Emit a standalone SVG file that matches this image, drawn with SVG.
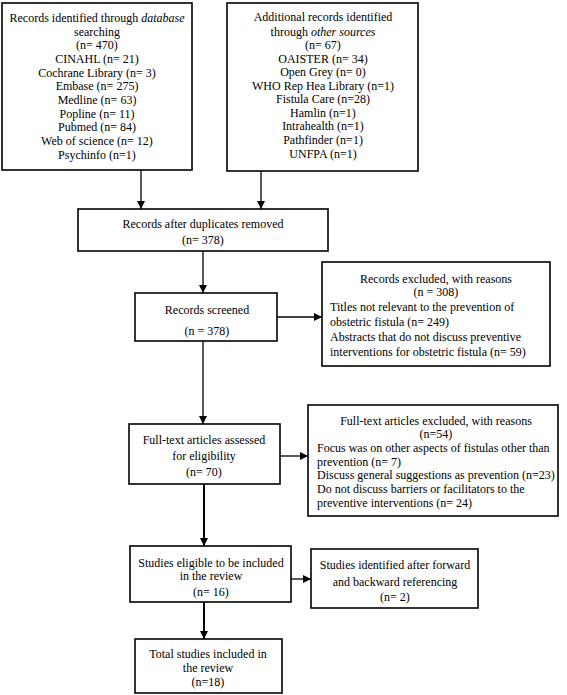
<svg xmlns="http://www.w3.org/2000/svg" width="567" height="695" viewBox="0 0 567 695">
<style>
rect{fill:#fff;stroke:#000;stroke-width:1.6}
text{font-family:"Liberation Serif","Times New Roman",serif;font-size:12px;fill:#000}
.c{text-anchor:middle}
.l{stroke:#000;stroke-width:1.3;fill:none}
.t{stroke-width:2}
</style>
<defs>
<marker id="ah" markerUnits="userSpaceOnUse" markerWidth="8" markerHeight="8" refX="8" refY="4" orient="auto">
<path d="M0,0 L8,4 L0,8 z" fill="#000"/>
</marker>
</defs>
<rect width="567" height="695" style="stroke:none"/>
<g id="connectors">
<path class="l" d="M141,170 V209" marker-end="url(#ah)"/>
<path class="l" d="M261,171 V209" marker-end="url(#ah)"/>
<path class="l" d="M203,251 V293" marker-end="url(#ah)"/>
<path class="l" d="M277,317 H322" marker-end="url(#ah)"/>
<path class="l" d="M203,341 V424" marker-end="url(#ah)"/>
<path class="l" d="M280,456 H308" marker-end="url(#ah)"/>
<path class="l t" d="M204,484 V546" marker-end="url(#ah)"/>
<path class="l" d="M291,579 H311" marker-end="url(#ah)"/>
<path class="l t" d="M204,602 V639" marker-end="url(#ah)"/>
</g>
<g id="db">
<rect x="2" y="3" width="190" height="167"/>
<text class="c" x="97" y="22">Records identified through <tspan font-style="italic">database</tspan></text>
<text class="c" x="97" y="36">searching</text>
<text class="c" x="97" y="49">(n= 470)</text>
<text class="c" x="97" y="63">CINAHL (n= 21)</text>
<text class="c" x="97" y="77">Cochrane Library (n= 3)</text>
<text class="c" x="97" y="90">Embase (n= 275)</text>
<text class="c" x="97" y="104">Medline (n= 63)</text>
<text class="c" x="97" y="118">Popline (n= 11)</text>
<text class="c" x="97" y="131">Pubmed (n= 84)</text>
<text class="c" x="97" y="145">Web of science (n= 12)</text>
<text class="c" x="97" y="159">Psychinfo (n=1)</text>
</g>
<g id="other">
<rect x="227" y="3" width="191" height="168"/>
<text class="c" x="323" y="21">Additional records identified</text>
<text class="c" x="323" y="36">through <tspan font-style="italic">other sources</tspan></text>
<text class="c" x="323" y="49">(n= 67)</text>
<text class="c" x="323" y="63">OAISTER (n= 34)</text>
<text class="c" x="323" y="76">Open Grey (n= 0)</text>
<text class="c" x="323" y="90">WHO Rep Hea Library (n=1)</text>
<text class="c" x="323" y="103">Fistula Care (n=28)</text>
<text class="c" x="323" y="117">Hamlin (n=1)</text>
<text class="c" x="323" y="130">Intrahealth (n=1)</text>
<text class="c" x="323" y="144">Pathfinder (n=1)</text>
<text class="c" x="323" y="158">UNFPA (n=1)</text>
</g>
<g id="dup">
<rect x="78" y="209" width="250" height="42"/>
<text class="c" x="203" y="228">Records after duplicates removed</text>
<text class="c" x="203" y="244">(n= 378)</text>
</g>
<g id="screened">
<rect x="135" y="293" width="142" height="48"/>
<text class="c" x="207" y="314">Records screened</text>
<text class="c" x="207" y="335">(n = 378)</text>
</g>
<g id="excluded">
<rect x="322" y="262" width="228" height="104"/>
<text class="c" x="436" y="283">Records excluded, with reasons</text>
<text class="c" x="436" y="296">(n = 308)</text>
<text x="330" y="311">Titles not relevant to the prevention of</text>
<text x="330" y="326">obstetric fistula (n= 249)</text>
<text x="330" y="341">Abstracts that do not discuss preventive</text>
<text x="330" y="356">interventions for obstetric fistula (n= 59)</text>
</g>
<g id="fulltext">
<rect x="129" y="424" width="151" height="60"/>
<text class="c" x="204" y="444">Full-text articles assessed</text>
<text class="c" x="204" y="460">for eligibility</text>
<text class="c" x="204" y="476">(n= 70)</text>
</g>
<g id="excluded2">
<rect x="308" y="405" width="250" height="111"/>
<text class="c" x="436" y="425">Full-text articles excluded, with reasons</text>
<text class="c" x="436" y="438">(n=54)</text>
<text x="317" y="452">Focus was on other aspects of fistulas other than</text>
<text x="317" y="466">prevention (n= 7)</text>
<text x="317" y="479">Discuss general suggestions as prevention (n=23)</text>
<text x="317" y="493">Do not discuss barriers or facilitators to the</text>
<text x="317" y="507">preventive interventions (n= 24)</text>
</g>
<g id="eligible">
<rect x="130" y="546" width="161" height="56"/>
<text class="c" x="211" y="567">Studies eligible to be included</text>
<text class="c" x="211" y="580">in the review</text>
<text class="c" x="211" y="596">(n= 16)</text>
</g>
<g id="forward">
<rect x="311" y="549" width="167" height="59"/>
<text class="c" x="395" y="569">Studies identified after forward</text>
<text class="c" x="395" y="586">and backward referencing</text>
<text class="c" x="395" y="601">(n= 2)</text>
</g>
<g id="total">
<rect x="135" y="639" width="147" height="54"/>
<text class="c" x="208" y="658">Total studies included in</text>
<text class="c" x="208" y="672">the review</text>
<text class="c" x="208" y="686">(n=18)</text>
</g>
</svg>
